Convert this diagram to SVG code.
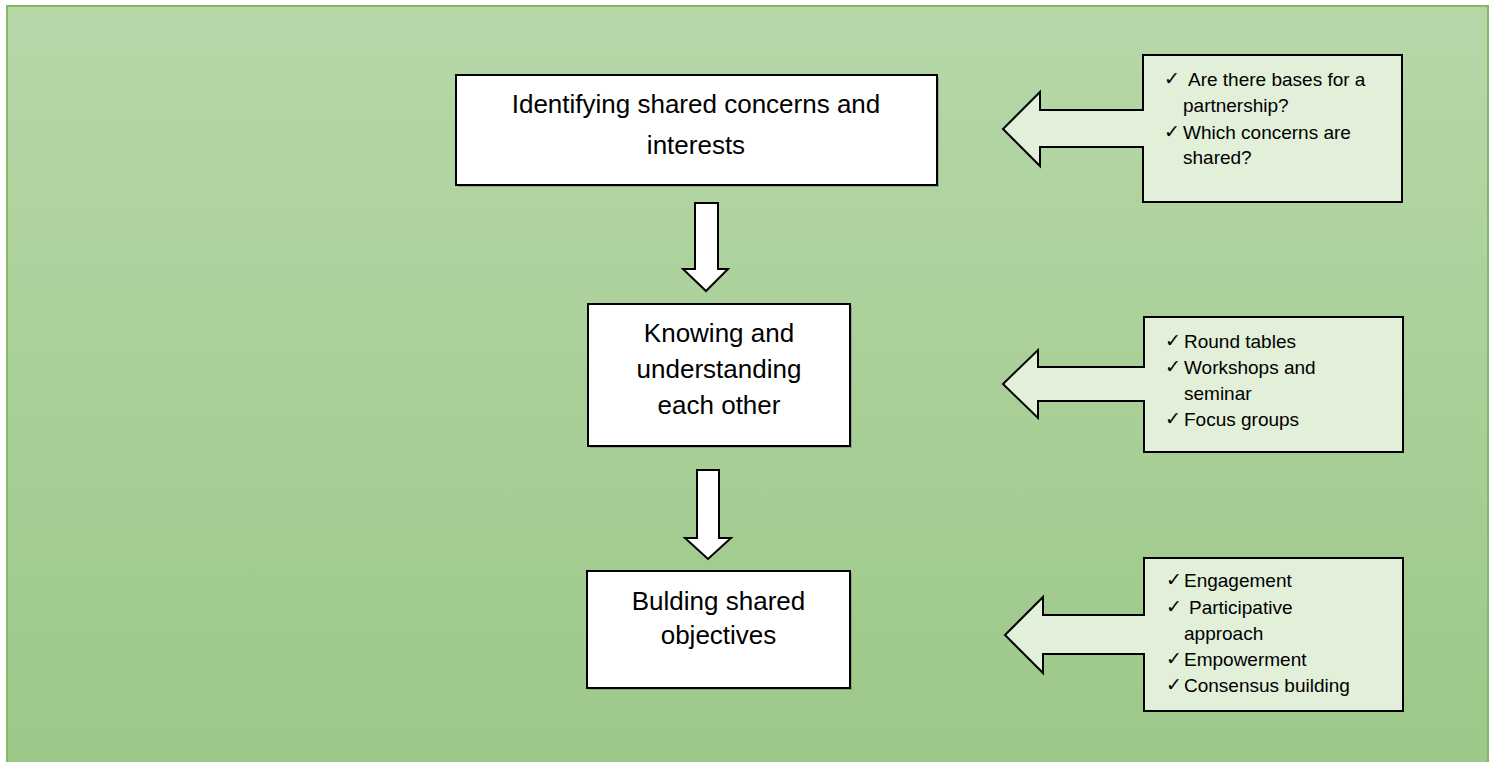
<svg xmlns="http://www.w3.org/2000/svg" width="1496" height="762" viewBox="0 0 1496 762">
<defs>
<linearGradient id="bg" x1="0" y1="0" x2="0" y2="1">
<stop offset="0" stop-color="#b7d7a8"/>
<stop offset="1" stop-color="#9cc888"/>
</linearGradient>
</defs>
<style>
.box{fill:#ffffff;stroke:#000000;stroke-width:2}
.shadow{fill:#7a8a72;opacity:0.6}
.call{fill:#e2efd9;stroke:#000000;stroke-width:2;stroke-linejoin:miter}
.arrow{fill:#ffffff;stroke:#000000;stroke-width:2;stroke-linejoin:miter}
.main{font-family:"Liberation Sans",Arial,sans-serif;font-size:26px;fill:#000000;text-anchor:middle}
.item{font-family:"Liberation Sans",Arial,sans-serif;font-size:19px;fill:#000000}
.chk{font-family:"DejaVu Sans",sans-serif;font-size:19px;fill:#000000}
</style>
<rect id="background" x="7" y="6" width="1481" height="770" fill="url(#bg)" stroke="#82b866" stroke-width="2"/>

<g id="node-identifying">
<rect class="shadow" x="458" y="77" width="481" height="110"/>
<rect class="box" x="456" y="75" width="481" height="110"/>
<text class="main" x="696" y="113">Identifying shared concerns and</text>
<text class="main" x="696" y="154">interests</text>
</g>

<g id="node-knowing">
<rect class="shadow" x="590" y="306" width="262" height="142"/>
<rect class="box" x="588" y="304" width="262" height="142"/>
<text class="main" x="719" y="342">Knowing and</text>
<text class="main" x="719" y="378">understanding</text>
<text class="main" x="719" y="414">each other</text>
</g>

<g id="node-building">
<rect class="shadow" x="589" y="573" width="263" height="117"/>
<rect class="box" x="587" y="571" width="263" height="117"/>
<text class="main" x="718.5" y="610">Bulding shared</text>
<text class="main" x="718.5" y="644">objectives</text>
</g>

<g id="callout-1">
<path class="call" d="M1143,55 H1402 V202 H1143 V147 H1040 V166 L1003,129 L1040,92 V110 H1143 Z"/>
<text class="chk" x="1164" y="85">✓</text>
<text class="item" x="1188" y="86">Are there bases for a</text>
<text class="item" x="1183" y="112">partnership?</text>
<text class="chk" x="1164" y="138">✓</text>
<text class="item" x="1183" y="139">Which concerns are</text>
<text class="item" x="1183" y="164">shared?</text>
</g>

<g id="callout-2">
<path class="call" d="M1144,317 H1403 V452 H1144 V401 H1038 V418 L1003,384 L1038,350 V367 H1144 Z"/>
<text class="chk" x="1165" y="347">✓</text>
<text class="item" x="1184" y="348">Round tables</text>
<text class="chk" x="1165" y="373">✓</text>
<text class="item" x="1184" y="374">Workshops and</text>
<text class="item" x="1184" y="400">seminar</text>
<text class="chk" x="1165" y="425">✓</text>
<text class="item" x="1184" y="426">Focus groups</text>
</g>

<g id="callout-3">
<path class="call" d="M1144,558 H1403 V711 H1144 V654 H1043 V673 L1005,635 L1043,597 V615 H1144 Z"/>
<text class="chk" x="1166" y="586">✓</text>
<text class="item" x="1184" y="587">Engagement</text>
<text class="chk" x="1166" y="613">✓</text>
<text class="item" x="1189" y="614">Participative</text>
<text class="item" x="1184" y="640">approach</text>
<text class="chk" x="1166" y="665">✓</text>
<text class="item" x="1184" y="666">Empowerment</text>
<text class="chk" x="1166" y="691">✓</text>
<text class="item" x="1184" y="692">Consensus building</text>
</g>

<g id="connectors">
<path class="arrow" d="M695,203 H718 V269 H728 L706,291 L683,269 H695 Z"/>
<path class="arrow" d="M697,470 H719 V538 H731 L708,559 L685,538 H697 Z"/>
</g>
</svg>
